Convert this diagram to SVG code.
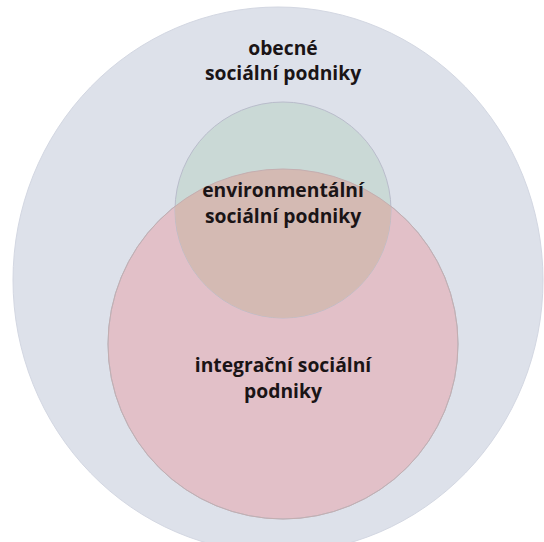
<svg xmlns="http://www.w3.org/2000/svg" width="544" height="542" viewBox="0 0 544 542">
<style>
.lbl{font-family:"Open Sans","Noto Sans","Liberation Sans",sans-serif;font-weight:700;font-size:19.3px;fill:#1a1416;text-anchor:middle}
.ring{stroke:#b9bccb;stroke-width:1}
</style>
<defs>
<clipPath id="pinkClip"><circle cx="283" cy="344" r="175"/></clipPath>
</defs>
<rect width="544" height="542" fill="#ffffff"/>
<g id="outer">
<ellipse cx="278" cy="280" rx="265" ry="273" fill="#dde1ea" stroke="#d3d7e2" stroke-width="1"/>
<text class="lbl" x="283" y="55">obecné</text>
<text class="lbl" x="283" y="80">sociální podniky</text>
</g>
<g id="integracni">
<circle class="ring" cx="283" cy="344" r="175" fill="#e2c0c8"/>
<text class="lbl" x="283" y="372">integrační sociální</text>
<text class="lbl" x="283" y="398">podniky</text>
</g>
<g id="environmentalni">
<circle class="ring" cx="283" cy="210" r="108" fill="#cad9d6"/>
<circle cx="283" cy="210" r="108" fill="#d4bab3" clip-path="url(#pinkClip)"/>
<circle cx="283" cy="344" r="175" fill="none" stroke="#c4aeb0" stroke-width="1"/>
<text class="lbl" x="283" y="197">environmentální</text>
<text class="lbl" x="283" y="223">sociální podniky</text>
</g>
<g id="connectors"/>
</svg>
